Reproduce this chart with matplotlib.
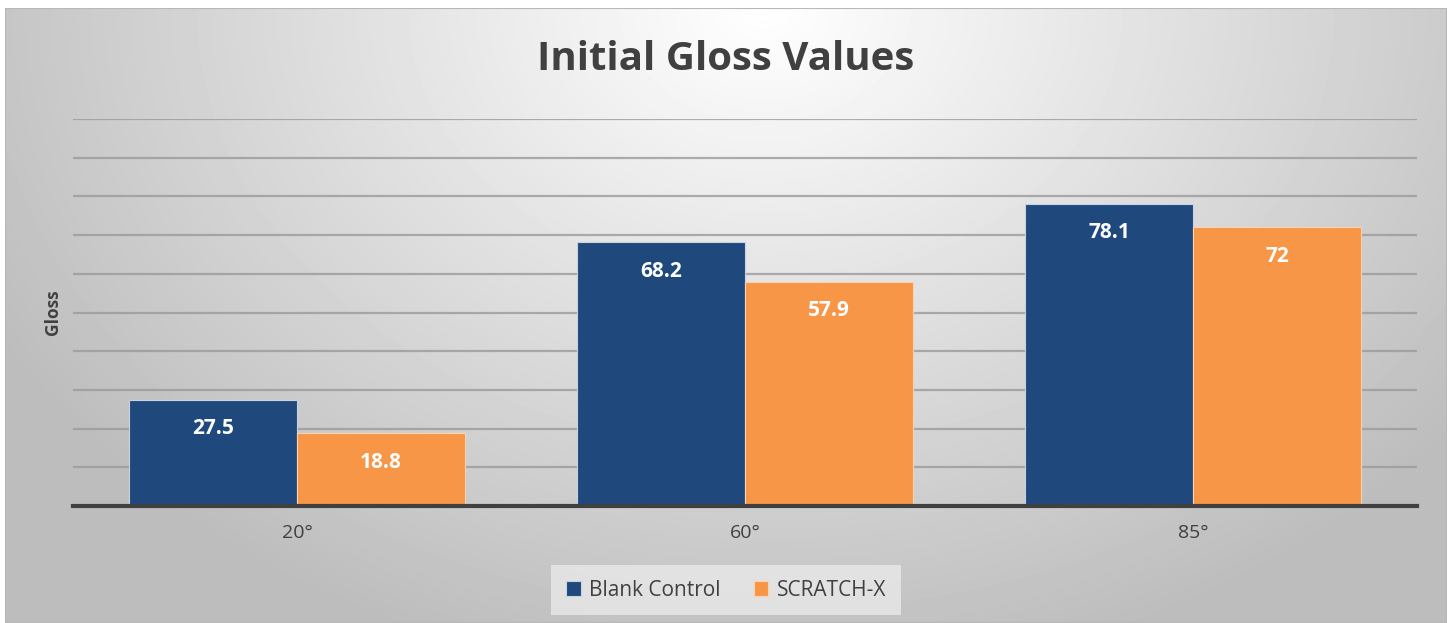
import numpy as np
import matplotlib.pyplot as plt
from matplotlib.patches import Rectangle

plt.rcParams['font.family'] = ['Open Sans', 'DejaVu Sans']

# ----------------------------- data -----------------------------
angles = ['20°', '60°', '85°']
blank_control = [27.5, 68.2, 78.1]
scratch_x = [18.8, 57.9, 72]
series_names = ['Blank Control', 'SCRATCH-X']

navy = '#1F497D'
orange = '#F79646'
text_col = '#404040'

W, H = 1452, 623
fig = plt.figure(figsize=(W / 100, H / 100), dpi=100)
fig.patch.set_facecolor('white')

# ----------------------------- background (radial gradient) -----------------------------
bg = fig.add_axes([5 / W, 0, 1442 / W, 1 - 8 / H])
bg.set_axis_off()
yy, xx = np.mgrid[0:615, 0:1442]
cx, cy = 760, 0
r = np.sqrt(((xx - cx) / 880.0) ** 2 + ((yy - cy) / 680.0) ** 2)
r = np.clip(r, 0, 1)
shade = 1.0 - 0.26 * r
bg.imshow(shade, cmap='gray', vmin=0, vmax=1, aspect='auto', interpolation='bilinear')
bg.add_patch(Rectangle((0, 0), 1, 1, transform=bg.transAxes, fill=False,
                       edgecolor='#b8b8b8', lw=1.5))

# ----------------------------- main axes -----------------------------
ax = fig.add_axes([73 / W, (H - 506) / H, (1417 - 73) / W, (506 - 119) / H])
ax.patch.set_alpha(0)

x = np.arange(len(angles))
w = 0.375
b1 = ax.bar(x - w / 2, blank_control, w, color=navy, edgecolor='#c8d2e0', lw=0.8,
            label=series_names[0], zorder=3)
b2 = ax.bar(x + w / 2, scratch_x, w, color=orange, edgecolor='#fbd3b0', lw=0.8,
            label=series_names[1], zorder=3)

for bars, vals in ((b1, blank_control), (b2, scratch_x)):
    for bar, v in zip(bars, vals):
        ax.annotate(f'{v:g}', (bar.get_x() + bar.get_width() / 2, v),
                    xytext=(0, -29), textcoords='offset pixels',
                    ha='center', va='center', color='white', fontsize=15,
                    fontweight='bold', zorder=4)

ax.set_xlim(-0.5, 2.5)
ax.set_ylim(0, 100)
ax.set_yticks(np.arange(10, 101, 10))
ax.yaxis.grid(True, color='#9a9a9a', lw=1.6, alpha=0.8, zorder=1)
ax.tick_params(axis='y', length=0, labelleft=False)
ax.set_xticks(x)
ax.set_xticklabels(angles, fontsize=14, color=text_col)
ax.tick_params(axis='x', length=0, pad=13)
for s in ('top', 'right', 'left'):
    ax.spines[s].set_visible(False)
ax.spines['bottom'].set_color('#404040')
ax.spines['bottom'].set_linewidth(3)
ax.spines['bottom'].set_zorder(5)

ax.set_ylabel('Gloss', fontsize=12.5, fontweight='bold', color=text_col)
ax.yaxis.set_label_coords(-0.008, 0.5)

fig.text(726 / W, 1 - 60 / H, 'Initial Gloss Values', ha='center', va='center',
         fontsize=29, fontweight='bold', color=text_col)

leg = fig.legend(loc='center', bbox_to_anchor=(726 / W, 1 - 590 / H), ncol=2,
                 frameon=True, fontsize=15, handlelength=0.7, handleheight=0.7,
                 handletextpad=0.4, columnspacing=1.6, borderpad=0.7)
leg.get_frame().set_facecolor('#e9e9e9')
leg.get_frame().set_edgecolor('none')
leg.get_frame().set_boxstyle('square', pad=0)
for t in leg.get_texts():
    t.set_color(text_col)

fig.savefig('out.png', dpi=100)
